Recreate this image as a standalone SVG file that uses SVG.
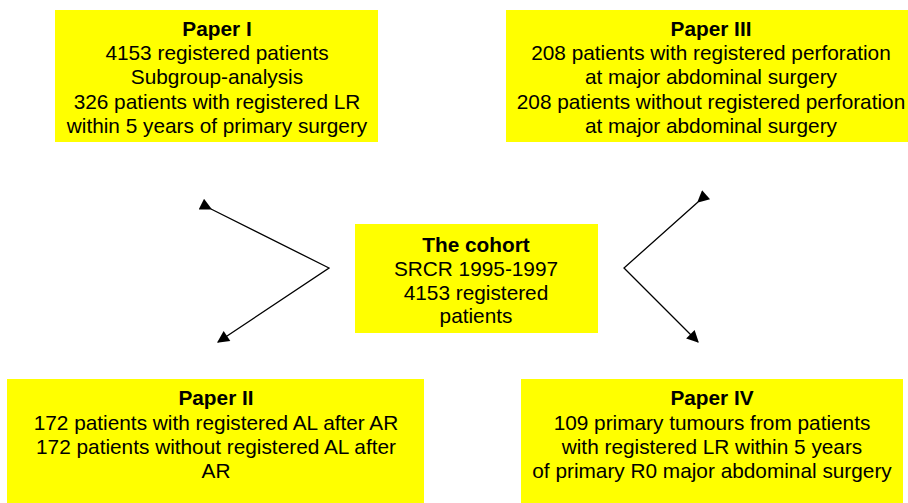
<svg xmlns="http://www.w3.org/2000/svg" width="908" height="503" viewBox="0 0 908 503">
<style>
.box{fill:#ffff00;stroke:none}
text{font-family:"Liberation Sans",Arial,sans-serif;font-size:20.8px;fill:#000;text-anchor:middle}
.t{font-weight:bold}
.c{fill:none;stroke:#000;stroke-width:1.3}
</style>
<defs>
<marker id="ah" viewBox="0 0 10 10" refX="9" refY="5" markerWidth="14" markerHeight="12" markerUnits="userSpaceOnUse" orient="auto">
<path d="M0,0 L10,5 L0,10 z" fill="#000"/>
</marker>
</defs>
<rect width="908" height="503" fill="#fff"/>
<g id="paper1">
<rect class="box" x="55" y="10" width="323" height="132"/>
<text x="217" y="36" class="t">Paper I</text>
<text x="217" y="60">4153 registered patients</text>
<text x="217" y="84">Subgroup-analysis</text>
<text x="217" y="109">326 patients with registered LR</text>
<text x="217" y="133">within 5 years of primary surgery</text>
</g>
<g id="paper3">
<rect class="box" x="506" y="10" width="402" height="132"/>
<text x="711" y="36" class="t">Paper III</text>
<text x="711" y="60">208 patients with registered perforation</text>
<text x="711" y="84">at major abdominal surgery</text>
<text x="711" y="109">208 patients without registered perforation</text>
<text x="711" y="133">at major abdominal surgery</text>
</g>
<g id="cohort">
<rect class="box" x="355" y="224" width="243" height="109"/>
<text x="476" y="252" class="t">The cohort</text>
<text x="476" y="276">SRCR 1995-1997</text>
<text x="476" y="300">4153 registered</text>
<text x="476" y="323">patients</text>
</g>
<g id="paper2">
<rect class="box" x="7" y="379" width="417" height="124"/>
<text x="216" y="405" class="t">Paper II</text>
<text x="216" y="430">172 patients with registered AL after AR</text>
<text x="216" y="454">172 patients without registered AL after</text>
<text x="216" y="478">AR</text>
</g>
<g id="paper4">
<rect class="box" x="521" y="379" width="382" height="124"/>
<text x="712" y="405" class="t">Paper IV</text>
<text x="712" y="430">109 primary tumours from patients</text>
<text x="712" y="454">with registered LR within 5 years</text>
<text x="712" y="478">of primary R0 major abdominal surgery</text>
</g>
<g id="connectors">
<polyline class="c" points="211,209 329,268 218,342" marker-start="url(#ah)" marker-end="url(#ah)"/>
<polyline class="c" points="698,202 624,268 698,342" marker-start="url(#ah)" marker-end="url(#ah)"/>
</g>
</svg>
